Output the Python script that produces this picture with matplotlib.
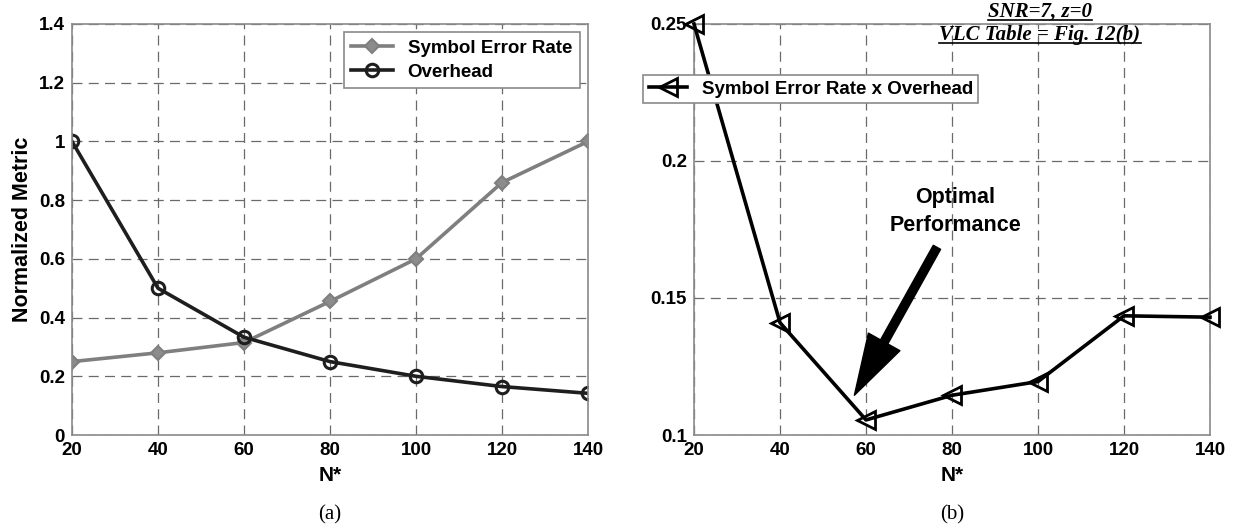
import matplotlib
matplotlib.use("Agg")
import matplotlib.pyplot as plt
from matplotlib.ticker import FuncFormatter
from matplotlib.lines import Line2D

plt.rcParams['font.family'] = ['Liberation Sans', 'DejaVu Sans']
plt.rcParams['font.weight'] = 'bold'

n_star = [20, 40, 60, 80, 100, 120, 140]
ser = [0.25, 0.28, 0.315, 0.455, 0.60, 0.86, 1.0]
overhead = [1.0, 0.5, 0.333, 0.25, 0.2, 0.165, 0.142]
ser_x_overhead = [0.25, 0.141, 0.1055, 0.1145, 0.1195, 0.1435, 0.143]

fig = plt.figure(figsize=(12.36, 5.32), dpi=100)
ax1 = fig.add_axes([72/1236, 97/532, 516/1236, 411/532])
ax2 = fig.add_axes([694/1236, 97/532, 516/1236, 411/532])

grid_kw = dict(color='#6a6a6a', linestyle=(0, (8, 5)), linewidth=0.9)
fmt = FuncFormatter(lambda v, p: '%g' % round(v, 4))

for ax in (ax1, ax2):
    ax.set_xlim(20, 140)
    ax.set_xticks(n_star)
    ax.grid(True, **grid_kw)
    for s in ax.spines.values():
        s.set_color('#8a8a8a')
        s.set_linewidth(1.2)
    ax.tick_params(direction='in', length=0, labelsize=13.5)
    ax.tick_params(axis='x', pad=5)
    ax.tick_params(axis='y', pad=5)
    ax.yaxis.set_major_formatter(fmt)
    ax.set_xlabel('N*', fontsize=15, fontweight='bold', labelpad=5)

# (a)
ax1.plot(n_star, ser, color='#7f7f7f', lw=2.6, marker='D', ms=7,
         mfc='#8c8c8c', mec='#7f7f7f', mew=1.5, label='Symbol Error Rate')
ax1.plot(n_star, overhead, color='#1e1e1e', lw=2.6, marker='o', ms=9,
         mfc='none', mec='#1e1e1e', mew=2.2, label='Overhead')
ax1.set_ylim(0, 1.4)
ax1.set_yticks([0, 0.2, 0.4, 0.6, 0.8, 1.0, 1.2, 1.4])
ax1.set_ylabel('Normalized Metric', fontsize=15.5, fontweight='bold', labelpad=4)
leg1 = ax1.legend(loc='upper right', fontsize=13.5, fancybox=False,
                  edgecolor='#8a8a8a', framealpha=1, borderaxespad=0.45,
                  handlelength=2.2, borderpad=0.4, labelspacing=0.35)
leg1.get_frame().set_linewidth(1.2)

# (b)
ax2.plot(n_star, ser_x_overhead, color='black', lw=2.6, marker='<', ms=13,
         mfc='none', mec='black', mew=2, label='Symbol Error Rate x Overhead',
         clip_on=False, zorder=5)
ax2.set_ylim(0.1, 0.25)
ax2.set_yticks([0.1, 0.15, 0.2, 0.25])
leg2 = ax2.legend(loc='center left', bbox_to_anchor=(634/1236, 1 - 89/532),
                  bbox_transform=fig.transFigure, fontsize=13.5, fancybox=False,
                  edgecolor='#8a8a8a', framealpha=1, handlelength=2.0,
                  borderpad=0.3)
leg2.get_frame().set_linewidth(1.2)

ax2.annotate('', xy=(57.3, 0.1145), xytext=(76.5, 0.1685),
             arrowprops=dict(facecolor='black', edgecolor='black', width=6,
                             headwidth=26, headlength=44))
ax2.text(80.7, 0.1815, 'Optimal\nPerformance', ha='center', va='center',
         fontsize=15.5, fontweight='bold', linespacing=1.45)

# underlined italic notes
notes = ['SNR=7, z=0', 'VLC Table = Fig. 12(b)']
note_y = [1 - 12/532, 1 - 35/532]
note_texts = []
for t, y in zip(notes, note_y):
    note_texts.append(fig.text(1040/1236, y, t, ha='center', va='center',
                               fontsize=15, fontstyle='italic', fontweight='bold',
                               family=['Liberation Serif', 'DejaVu Serif']))

fig.text(330/1236, 1 - 515/532, '(a)', ha='center', va='center', fontsize=15,
         fontweight='normal', family=['Liberation Serif', 'DejaVu Serif'])
fig.text(952/1236, 1 - 515/532, '(b)', ha='center', va='center', fontsize=15,
         fontweight='normal', family=['Liberation Serif', 'DejaVu Serif'])

fig.canvas.draw()
r = fig.canvas.get_renderer()
inv = fig.transFigure.inverted()
for t in note_texts:
    bb = t.get_window_extent(renderer=r)
    (x0, y0), (x1, y1) = inv.transform([(bb.x0, bb.y0 + 2), (bb.x1, bb.y1)])
    fig.add_artist(Line2D([x0, x1], [y0, y0], color='black', lw=1.2,
                          transform=fig.transFigure))

fig.savefig('out.png', dpi=100)
